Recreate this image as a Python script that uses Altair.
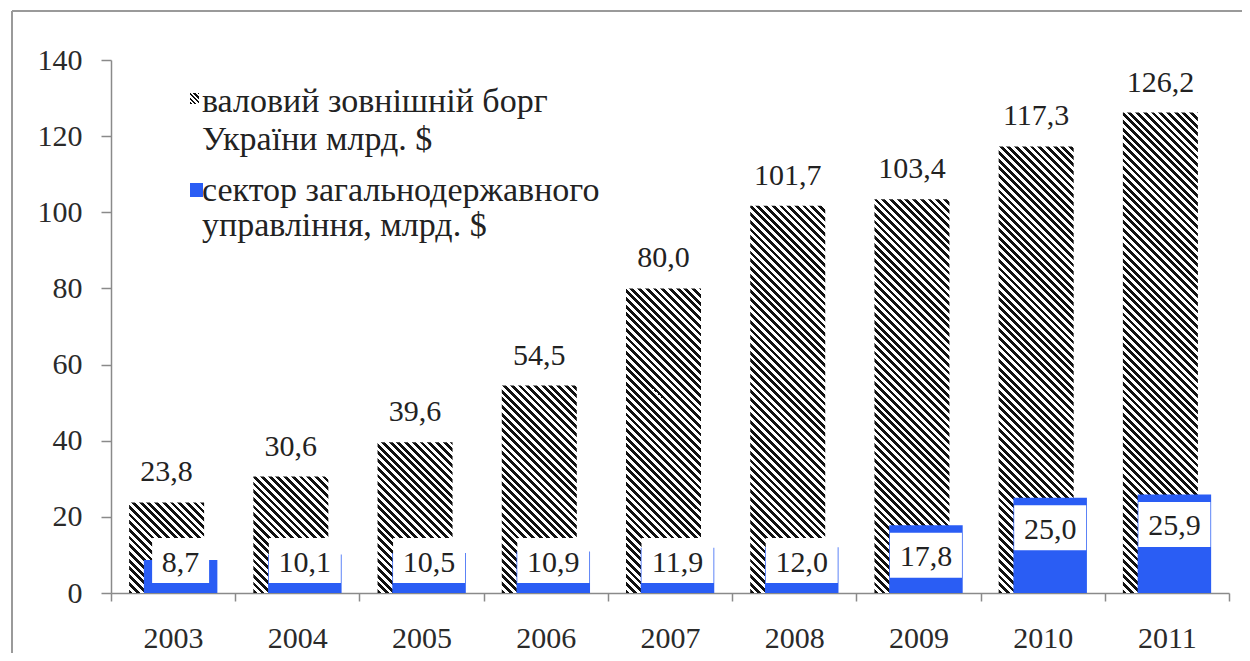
import altair as alt
import pandas as pd

# ---- data ----
years = ["2003", "2004", "2005", "2006", "2007", "2008", "2009", "2010", "2011"]
gross_debt = [23.8, 30.6, 39.6, 54.5, 80.0, 101.7, 103.4, 117.3, 126.2]
gov_debt = [8.7, 10.1, 10.5, 10.9, 11.9, 12.0, 17.8, 25.0, 25.9]
y_ticks = [0, 20, 40, 60, 80, 100, 120, 140]
legend_gross = ["валовий зовнішній борг", "України млрд. $"]
legend_gov = ["сектор загальнодержавного", "управління, млрд. $"]

# ---- layout / style ----
W_PLOT, H_PLOT, Y_MAX = 1118, 533, 140
PPU = H_PLOT / Y_MAX
HATCH_W, BLUE_W = 75, 73.5
HATCH_DX, BLUE_DX = -6.5, 7.5
BLUE = "#2a5df4"
INK = "#111111"
FONT = "Liberation Serif"
TXT = "#222222"


def hatch(w, h, period=7.7, frac=0.5):
    """Diagonal '\\' stripes as a bbox linear gradient for a w x h px rectangle."""
    k = (w + h) / (w * w + h * h)
    n = (w + h) / period
    stops = []
    i = 0
    while i < n:
        a = min(i / n, 1.0)
        b = min((i + frac) / n, 1.0)
        c = min((i + 1) / n, 1.0)
        stops += [(a, INK), (b, INK), (b, "#ffffff"), (c, "#ffffff")]
        i += 1
    return alt.LinearGradient(
        gradient="linear",
        stops=[alt.GradientStop(offset=o, color=col) for o, col in stops],
        x1=0, y1=1, x2=k * w, y2=1 - k * h,
    )


df = pd.DataFrame({"year": years, "gross": gross_debt, "gov": gov_debt})

X = alt.X("year:N", scale=alt.Scale(domain=years, paddingInner=0, paddingOuter=0),
          axis=alt.Axis(title=None, tickBand="extent", labelAngle=0, tickSize=8,
                        labelPadding=22))


def Y(field):
    return alt.Y(field, scale=alt.Scale(domain=[0, Y_MAX], nice=False),
                 axis=alt.Axis(title=None, values=y_ticks, grid=False, tickSize=10,
                               labelPadding=19))


base = alt.Chart(df)
layers = []

# hatched bars (one layer each, gradient sized to the bar)
for yr, v in zip(years, gross_debt):
    layers.append(
        base.transform_filter(alt.datum.year == yr)
        .mark_bar(width=HATCH_W, xOffset=HATCH_DX, fill=hatch(HATCH_W, v * PPU))
        .encode(x=X, y=Y("gross:Q"))
    )

# blue bars
layers.append(
    base.mark_bar(width=BLUE_W, xOffset=BLUE_DX, color=BLUE)
    .encode(x=X, y=Y("gov:Q"))
)

calc = base.transform_calculate(
    glabel="replace(format(datum.gross, '.1f'), '.', ',')",
    label="replace(format(datum.gov, '.1f'), '.', ',')",
).transform_calculate(
    bc=f"max(datum.gov - {30 / PPU}, {32.5 / PPU})",
    bw="15 * length(datum.label) + 12",
).transform_calculate(
    b0=f"datum.bc - {22.5 / PPU}",
    b1=f"datum.bc + {22.5 / PPU}",
)

# white label boxes
layers.append(
    calc.mark_bar(xOffset=BLUE_DX, color="white")
    .encode(x=X, y=Y("b0:Q"), y2="b1:Q",
            size=alt.Size("bw:Q", scale=None, legend=None))
)
# blue labels
layers.append(
    calc.mark_text(xOffset=BLUE_DX, dy=2, baseline="middle", font=FONT,
                   fontSize=30, color=TXT)
    .encode(x=X, y=Y("bc:Q"), text="label:N")
)
# gross labels
layers.append(
    calc.mark_text(xOffset=HATCH_DX, dy=-30, baseline="middle", font=FONT,
                   fontSize=30, color=TXT)
    .encode(x=X, y=Y("gross:Q"), text="glabel:N")
)

# legend
one = pd.DataFrame({"k": [0]})
leg_y = [42, 80, 131, 166]
for t, yy in zip(legend_gross + legend_gov, leg_y):
    layers.append(
        alt.Chart(pd.DataFrame({"t": [t]}))
        .mark_text(align="left", baseline="middle", font=FONT, fontSize=34, color=TXT)
        .encode(x=alt.value(91), y=alt.value(yy), text="t:N")
    )
layers.append(
    alt.Chart(one).mark_rect(fill=hatch(9, 11, period=4.6))
    .encode(x=alt.value(79), x2=alt.value(88), y=alt.value(33), y2=alt.value(44))
)
layers.append(
    alt.Chart(one).mark_rect(color=BLUE)
    .encode(x=alt.value(79), x2=alt.value(92), y=alt.value(123), y2=alt.value(137))
)

# page frame
layers.append(
    alt.Chart(one).mark_rule(color="#9a9a9a", strokeWidth=2)
    .encode(x=alt.value(-99), y=alt.value(-49), y2=alt.value(800))
)
layers.append(
    alt.Chart(one).mark_rule(color="#9a9a9a", strokeWidth=2)
    .encode(x=alt.value(-99), x2=alt.value(1400), y=alt.value(-49))
)

chart = (
    alt.layer(*layers)
    .properties(width=W_PLOT, height=H_PLOT,
                autosize=alt.AutoSizeParams(type="none"),
                padding={"left": 103, "top": 52, "right": 13, "bottom": 60},
                background="white")
    .configure_view(stroke=None)
    .configure_axis(domainColor="#8a8a8a", tickColor="#8a8a8a", domainWidth=1.5,
                    tickWidth=1.5, labelFont=FONT, labelFontSize=30,
                    labelColor="#2a2a2a", grid=False)
)

chart.save("out.html", embed_options={"renderer": "svg", "actions": False})
